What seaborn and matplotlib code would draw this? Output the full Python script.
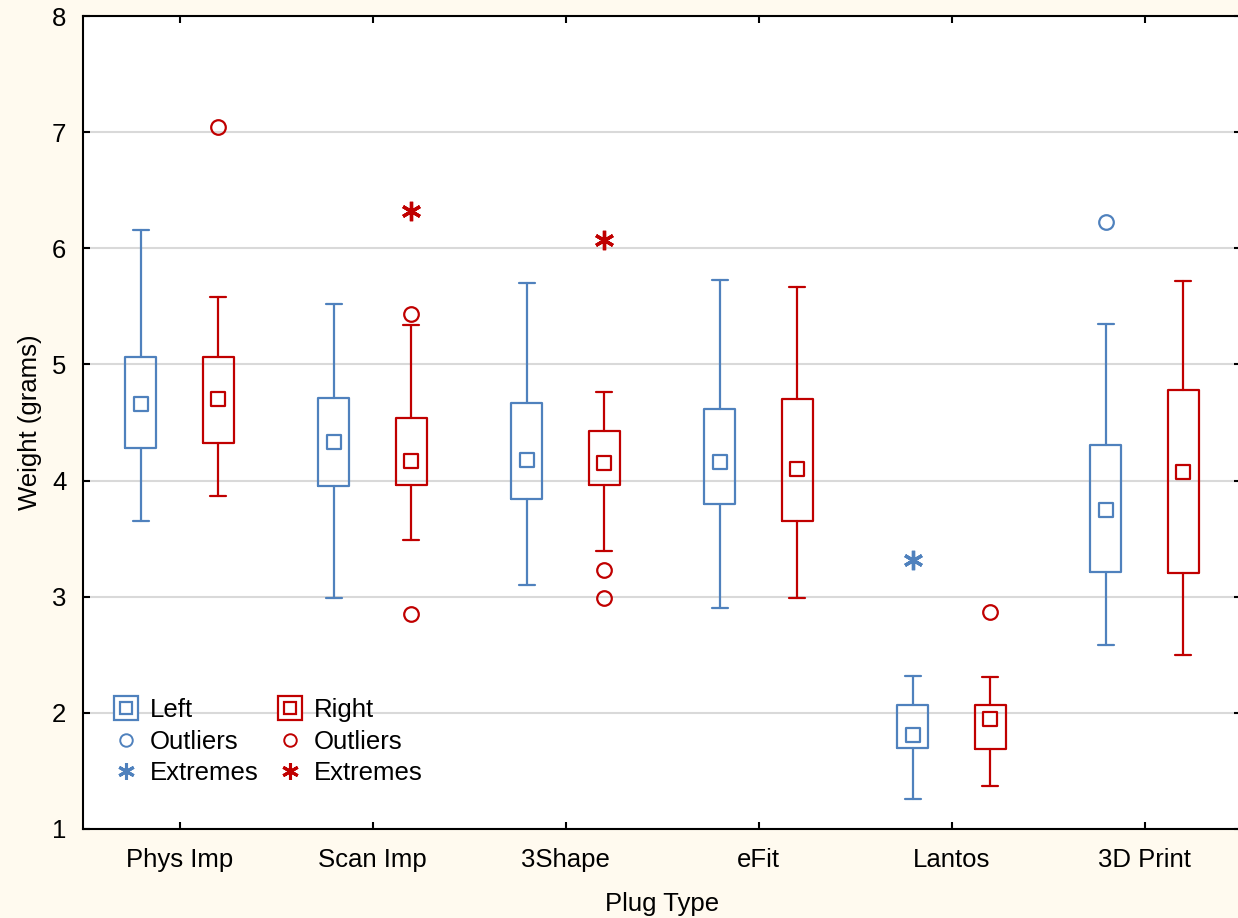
import numpy as np
import pandas as pd
import matplotlib.pyplot as plt
import seaborn as sns
from matplotlib.lines import Line2D
from matplotlib.legend_handler import HandlerTuple

# box statistics (median, quartiles, whisker ends)
plug_types = ["Phys Imp", "Scan Imp", "3Shape", "eFit", "Lantos", "3D Print"]

left_median = [4.66, 4.33, 4.18, 4.16, 1.81, 3.75]
left_q1 = [4.28, 3.95, 3.84, 3.80, 1.70, 3.21]
left_q3 = [5.06, 4.71, 4.67, 4.62, 2.07, 4.31]
left_whislo = [3.65, 2.99, 3.10, 2.90, 1.26, 2.58]
left_whishi = [6.16, 5.52, 5.70, 5.73, 2.32, 5.35]

right_median = [4.70, 4.17, 4.15, 4.10, 1.95, 4.07]
right_q1 = [4.32, 3.96, 3.96, 3.65, 1.69, 3.20]
right_q3 = [5.06, 4.54, 4.43, 4.70, 2.07, 4.78]
right_whislo = [3.87, 3.49, 3.39, 2.99, 1.37, 2.50]
right_whishi = [5.58, 5.34, 4.76, 5.67, 2.31, 5.72]

# outliers and extremes (category, value)
left_outlier_cat = ["3D Print"]
left_outlier_val = [6.23]
left_extreme_cat = ["Lantos"]
left_extreme_val = [3.32]
right_outlier_cat = ["Phys Imp", "Scan Imp", "Scan Imp", "3Shape", "3Shape", "Lantos"]
right_outlier_val = [7.04, 5.43, 2.85, 3.23, 2.99, 2.87]
right_extreme_cat = ["Scan Imp", "3Shape"]
right_extreme_val = [6.32, 6.07]

blue = "#4F81BD"
red = "#C00000"
offset = 0.2

sns.set_theme(style="white")
plt.rcParams['font.family'] = ['Liberation Sans', 'DejaVu Sans']
plt.rcParams['text.color'] = 'black'
plt.rcParams['axes.labelcolor'] = 'black'
plt.rcParams['xtick.color'] = 'black'
plt.rcParams['ytick.color'] = 'black'

fig = plt.figure(figsize=(12.38, 9.18), dpi=100, facecolor="#FFFAEF")
ax = fig.add_axes([83 / 1238, 1 - 829 / 918, 1158 / 1238, 813 / 918])
ax.set_facecolor("white")

pos = {name: i for i, name in enumerate(plug_types)}


def make_stats(med, q1, q3, lo, hi):
    return [dict(med=m, q1=a, q3=b, whislo=l, whishi=h, fliers=[])
            for m, a, b, l, h in zip(med, q1, q3, lo, hi)]


def draw_side(stats, shift, color):
    x = np.arange(len(plug_types)) + shift
    ax.bxp(stats, positions=x, widths=0.16, showfliers=False,
           boxprops=dict(color=color, lw=1.6),
           whiskerprops=dict(color=color, lw=1.6),
           capprops=dict(color=color, lw=1.6),
           medianprops=dict(visible=False),
           capwidths=0.085, manage_ticks=False, zorder=3)


draw_side(make_stats(left_median, left_q1, left_q3, left_whislo, left_whishi), -offset, blue)
draw_side(make_stats(right_median, right_q1, right_q3, right_whislo, right_whishi), offset, red)

medians = pd.DataFrame({
    "x": list(np.arange(6) - offset) + list(np.arange(6) + offset),
    "y": left_median + right_median,
    "side": ["Left"] * 6 + ["Right"] * 6,
})
for side, color in [("Left", blue), ("Right", red)]:
    d = medians[medians.side == side]
    sns.scatterplot(x=d.x, y=d.y, marker="s", s=105, color="white",
                    edgecolor=color, linewidth=1.6, ax=ax, zorder=4)

pts = pd.DataFrame({
    "x": [pos[c] - offset for c in left_outlier_cat] + [pos[c] + offset for c in right_outlier_cat],
    "y": left_outlier_val + right_outlier_val,
    "side": ["Left"] * len(left_outlier_val) + ["Right"] * len(right_outlier_val),
})
for side, color in [("Left", blue), ("Right", red)]:
    d = pts[pts.side == side]
    ax.plot(d.x, d.y, "o", ms=10.5, mfc="none", mec=color, mew=1.6, zorder=4)

ext = pd.DataFrame({
    "x": [pos[c] - offset for c in left_extreme_cat] + [pos[c] + offset for c in right_extreme_cat],
    "y": left_extreme_val + right_extreme_val,
    "side": ["Left"] * len(left_extreme_val) + ["Right"] * len(right_extreme_val),
})
for side, color in [("Left", blue), ("Right", red)]:
    d = ext[ext.side == side]
    ax.plot(d.x, d.y, marker=(6, 2, 0), ls="none", ms=14, mec=color, mew=2.4, zorder=4)

ax.set_xlim(-0.5, 5.5)
ax.set_ylim(1, 8)
ax.set_xticks(range(len(plug_types)))
ax.set_xticklabels(plug_types)
ax.set_yticks(range(1, 9))
ax.set_xlabel("")
ax.set_ylabel("")
ax.yaxis.grid(True, color="#D9D9D9", lw=1.5, zorder=0)
ax.set_axisbelow(True)
ax.tick_params(direction="in", length=5, width=1.5, colors="black",
               labelsize=18.5, top=True, right=True, bottom=True, left=True)
ax.tick_params(axis="x", pad=14)
ax.tick_params(axis="y", pad=12)
for s in ax.spines.values():
    s.set_color("black")
    s.set_linewidth(1.5)
ax.set_xlabel("Plug Type", fontsize=18.5, labelpad=14)
ax.set_ylabel("Weight (grams)", fontsize=18.5, labelpad=7)

# legend
box_l = (Line2D([], [], ls="none", marker="s", ms=17, mfc="white", mec=blue, mew=1.6),
         Line2D([], [], ls="none", marker="s", ms=8, mfc="white", mec=blue, mew=1.6))
box_r = (Line2D([], [], ls="none", marker="s", ms=17, mfc="white", mec=red, mew=1.6),
         Line2D([], [], ls="none", marker="s", ms=8, mfc="white", mec=red, mew=1.6))
out_l = Line2D([], [], ls="none", marker="o", ms=9, mfc="none", mec=blue, mew=1.4)
out_r = Line2D([], [], ls="none", marker="o", ms=9, mfc="none", mec=red, mew=1.4)
ext_l = Line2D([], [], ls="none", marker=(6, 2, 0), ms=12, mec=blue, mew=2.2)
ext_r = Line2D([], [], ls="none", marker=(6, 2, 0), ms=12, mec=red, mew=2.2)
ax.legend([box_l, out_l, ext_l, box_r, out_r, ext_r],
          ["Left", "Outliers", "Extremes", "Right", "Outliers", "Extremes"],
          handler_map={tuple: HandlerTuple(ndivide=1, pad=0)},
          ncol=2, loc="upper left", bbox_to_anchor=(0.017, 0.174),
          frameon=False, fontsize=18.5, handlelength=1.0, handletextpad=0.45,
          labelspacing=0.3, columnspacing=0.7, borderaxespad=0)

fig.savefig("out.png", dpi=100, facecolor=fig.get_facecolor())
